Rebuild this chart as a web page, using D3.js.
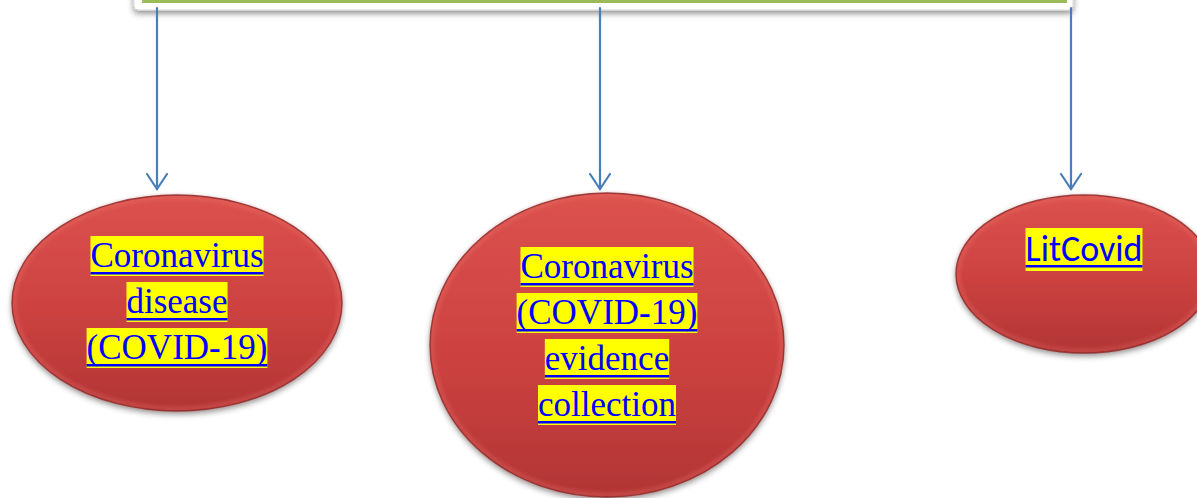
<!DOCTYPE html>
<html><head><meta charset="utf-8">
<script src="https://cdn.jsdelivr.net/npm/d3@7"></script>
<style>html,body{margin:0;padding:0;background:#fff;overflow:hidden}</style>
</head><body>
<svg id="c" width="1197" height="498"></svg>
<script>
// ---- data ----
const nodeNames = ["covid_disease", "evidence", "litcovid"];
const nodeLabels = [
  ["Coronavirus", "disease", "(COVID-19)"],
  ["Coronavirus", "(COVID-19)", "evidence", "collection"],
  ["LitCovid"]
];
const nodeFonts = ["serif", "serif", "sans"];

// ---- layout (positions / styles) ----
const layout = [
  {cx: 177, cy: 303, rx: 165, ry: 108, arrowX: 157, textTop: 236},
  {cx: 607, cy: 345, rx: 177, ry: 152, arrowX: 600, textTop: 247},
  {cx: 1084, cy: 274, rx: 128, ry: 79, arrowX: 1071, textTop: 228}
];
const lineStep = 46;

const svg = d3.select("#c");
const defs = svg.append("defs");

const grad = defs.append("linearGradient").attr("id","redg").attr("x1",0).attr("y1",0).attr("x2",0).attr("y2",1);
grad.append("stop").attr("offset","0%").attr("stop-color","#dc524d");
grad.append("stop").attr("offset","55%").attr("stop-color","#cc4140");
grad.append("stop").attr("offset","100%").attr("stop-color","#b23535");

const sh = defs.append("filter").attr("id","shadow").attr("x","-20%").attr("y","-20%").attr("width","140%").attr("height","150%");
sh.append("feGaussianBlur").attr("in","SourceAlpha").attr("stdDeviation",3).attr("result","b");
sh.append("feOffset").attr("in","b").attr("dx",0).attr("dy",3).attr("result","o");
sh.append("feComponentTransfer").attr("in","o").attr("result","o2").append("feFuncA").attr("type","linear").attr("slope",0.45);
const m = sh.append("feMerge"); m.append("feMergeNode").attr("in","o2"); m.append("feMergeNode").attr("in","SourceGraphic");

defs.append("filter").attr("id","blur").append("feGaussianBlur").attr("stdDeviation",2);

// top box
svg.append("rect").attr("x",134).attr("y",-30).attr("width",939).attr("height",40).attr("rx",4)
  .attr("fill","#fff").attr("stroke","#d8d8d8").attr("stroke-width",1).attr("filter","url(#shadow)");
svg.append("rect").attr("x",142).attr("y",-10).attr("width",925).attr("height",13).attr("fill","#9bbb59");

// arrows
const arrowColor = "#4a7ebb";
const ag = svg.append("g").attr("stroke",arrowColor).attr("stroke-width",2.2).attr("fill","none").attr("stroke-linecap","round");
layout.forEach(l => {
  const tipY = 189;
  ag.append("line").attr("x1",l.arrowX).attr("y1",8).attr("x2",l.arrowX).attr("y2",tipY);
  ag.append("path").attr("d", d3.line()([[l.arrowX-10,tipY-15],[l.arrowX,tipY],[l.arrowX+10,tipY-15]]));
});

// nodes
const ng = svg.selectAll("g.node").data(nodeNames).join("g").attr("class","node");
ng.each(function(name, i){
  const g = d3.select(this), l = layout[i];
  g.append("ellipse").attr("cx",l.cx).attr("cy",l.cy).attr("rx",l.rx).attr("ry",l.ry)
    .attr("fill","url(#redg)").attr("filter","url(#shadow)");
  // bevel
  g.append("ellipse").attr("cx",l.cx).attr("cy",l.cy).attr("rx",l.rx-2).attr("ry",l.ry-2)
    .attr("fill","none").attr("stroke","#f07a72").attr("stroke-width",2.5).attr("opacity",0.55).attr("filter","url(#blur)");
  g.append("ellipse").attr("cx",l.cx).attr("cy",l.cy).attr("rx",l.rx).attr("ry",l.ry)
    .attr("fill","none").attr("stroke","#8e2a2a").attr("stroke-width",1.4).attr("opacity",0.85);

  const serif = nodeFonts[i] === "serif";
  nodeLabels[i].forEach((txt, k) => {
    const top = l.textTop + k*lineStep;
    const fs = serif ? 35 : 36;
    const t = g.append("text").attr("x",l.cx).attr("y", top + (serif ? 31 : 33))
      .attr("text-anchor","middle")
      .attr("font-family", serif ? "'Liberation Serif','Times New Roman',serif" : "Carlito,'Open Sans','Liberation Sans',sans-serif")
      .attr("font-size", fs).attr("fill","#0000ff").text(txt);
    const w = t.node().getComputedTextLength();
    const hl = serif ? 40 : 43;
    g.insert("rect", function(){ return t.node(); }).attr("x", l.cx - w/2).attr("y", top).attr("width", w).attr("height", hl).attr("fill","#ffff00");
    const uy = serif ? top + 36 : top + 37;
    g.append("rect").attr("x", l.cx - w/2).attr("y", uy).attr("width", w).attr("height", 2.5).attr("fill","#0000ff");
  });
});
</script>
</body></html>
